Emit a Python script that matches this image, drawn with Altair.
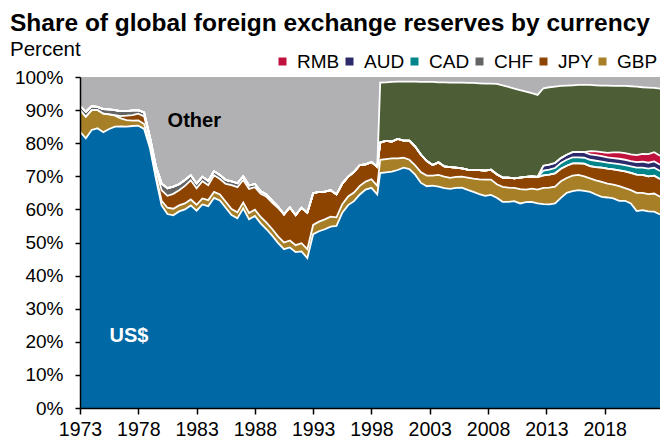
import altair as alt
import pandas as pd

years = [
    1973.0, 1973.5, 1974.0, 1974.5, 1975.0, 1975.5, 1976.0, 1976.5, 1977.0, 1977.5,
    1978.0, 1978.5, 1979.0, 1979.5, 1980.0, 1980.5, 1981.0, 1981.5, 1982.0, 1982.5,
    1983.0, 1983.5, 1984.0, 1984.5, 1985.0, 1985.5, 1986.0, 1986.5, 1987.0, 1987.5,
    1988.0, 1988.5, 1989.0, 1989.5, 1990.0, 1990.5, 1991.0, 1991.5, 1992.0, 1992.5,
    1993.0, 1993.5, 1994.0, 1994.5, 1995.0, 1995.5, 1996.0, 1996.5, 1997.0, 1997.5,
    1998.0, 1998.5,
    1998.75, 1999.25, 1999.75, 2000.25, 2000.75, 2001.25, 2001.75, 2002.25, 2002.75, 2003.25,
    2003.75, 2004.25, 2004.75, 2005.25, 2005.75, 2006.25, 2006.75, 2007.25, 2007.75, 2008.25,
    2008.75, 2009.25, 2009.75, 2010.25, 2010.75, 2011.25, 2011.75, 2012.25, 2012.75, 2013.25,
    2013.75, 2014.25, 2014.75, 2015.25, 2015.75, 2016.25, 2016.75, 2017.25, 2017.75, 2018.25,
    2018.75, 2019.25, 2019.75, 2020.25, 2020.75, 2021.25, 2021.75, 2022.25, 2022.75,
]

usd = [
    83.5, 81.5, 84.0, 84.5, 83.3, 84.3, 85.0, 85.1, 85.0, 85.2,
    85.3, 84.3, 78.5, 69.5, 61.2, 58.6, 58.2, 59.4, 60.0, 61.2,
    59.6, 61.5, 61.0, 63.5, 62.7, 60.5, 58.3, 57.3, 60.3, 57.0,
    58.0, 55.8, 54.0, 52.0, 49.8, 48.0, 48.5, 47.1, 47.3, 45.3,
    52.5, 53.4, 54.0, 54.8, 55.0, 59.0, 61.3, 62.5, 64.5, 66.0,
    66.5, 64.5,
    71.0, 71.2, 71.4, 71.9, 72.6, 72.2, 70.5, 68.0, 67.0, 67.2,
    66.9, 66.4, 66.2, 66.5, 66.6, 65.9, 65.3, 64.6, 64.1, 64.4,
    63.5, 62.3, 62.3, 62.5, 61.8, 62.2, 62.3, 61.8, 61.6, 61.5,
    61.8, 63.5, 65.0, 65.5, 65.8, 65.6, 65.3, 64.5, 63.8, 63.6,
    63.3, 62.6, 62.6, 61.8, 59.5, 59.8, 59.4, 59.3, 58.5,
]

gbp = [
    6.5, 6.5, 6.0, 5.5, 5.6, 4.4, 3.3, 2.4, 2.0, 1.6,
    1.6, 1.5, 1.0, 0.8, 1.4, 1.9, 2.0, 1.8, 1.8, 1.8,
    1.8, 1.8, 1.8, 1.8, 1.8, 1.8, 1.8, 1.8, 1.8, 1.9,
    1.9, 1.9, 2.0, 2.0, 2.0, 2.0, 2.1, 2.1, 2.5, 2.7,
    2.8, 2.9, 3.0, 3.0, 2.6, 2.6, 2.6, 2.6, 2.6, 2.4,
    2.6, 2.6,
    4.0, 4.0, 4.0, 3.5, 3.0, 2.8, 2.8, 3.2, 3.2, 3.0,
    3.5, 3.5, 3.3, 3.3, 3.3, 3.7, 4.0, 4.5, 4.9, 4.6,
    4.1, 4.5, 4.3, 4.0, 4.3, 3.8, 4.0, 4.2, 4.9, 5.1,
    5.1, 5.0, 4.5, 4.7, 4.6, 4.4, 4.1, 4.3, 4.5, 4.2,
    4.2, 4.4, 3.8, 4.0, 5.5, 5.2, 5.2, 5.5, 5.3,
]

jpy = [
    0.0, 0.0, 0.0, 0.0, 0.0, 0.0, 0.2, 0.7, 1.3, 1.7,
    2.0, 2.3, 1.5, 2.0, 3.2, 3.6, 4.5, 4.6, 5.3, 5.8,
    5.0, 5.2, 4.5, 5.0, 4.7, 5.4, 7.2, 7.6, 6.8, 7.3,
    6.8, 7.0, 7.8, 8.0, 8.6, 8.5, 10.0, 9.1, 10.7, 11.0,
    9.6, 9.0, 8.4, 8.0, 6.9, 6.2, 6.0, 6.2, 6.3, 5.2,
    5.2, 5.8,
    5.2, 5.5, 5.1, 5.9, 5.2, 5.8, 5.7, 5.3, 4.4, 3.2,
    3.8, 3.1, 3.3, 2.8, 2.5, 2.4, 2.6, 2.8, 2.7, 3.0,
    3.0, 2.8, 3.0, 2.9, 3.5, 3.8, 3.7, 3.8, 3.8, 3.9,
    4.0, 3.8, 3.7, 3.7, 3.5, 3.8, 3.7, 4.0, 4.3, 4.5,
    4.6, 4.8, 5.1, 5.2, 5.5, 5.4, 5.4, 5.4, 5.4,
]

chf = [
    1.3, 1.5, 1.2, 1.0, 1.4, 1.5, 1.5, 1.5, 1.4, 1.4,
    1.1, 1.2, 0.8, 0.9, 2.0, 2.3, 2.2, 1.8, 1.8, 1.5,
    1.4, 1.4, 1.3, 1.2, 1.2, 1.2, 1.2, 1.2, 1.1, 1.0,
    1.0, 0.8, 0.7, 0.6, 0.4, 0.0, 0.0, 0.0, 0.0, 0.0,
    0.0, 0.0, 0.0, 0.0, 0.0, 0.0, 0.0, 0.0, 0.0, 0.0,
    0.0, 0.0,
] + [0.0] * 49

cad = [0.0] * 80 + [
    1.4, 1.5, 1.6, 1.7, 1.8, 1.8, 1.8, 1.8, 1.9, 1.9,
    1.8, 1.8, 1.8, 1.9, 1.9, 2.0, 2.1, 2.2, 2.3, 2.4, 2.4,
]

aud = [0.0] * 80 + [
    1.5, 1.5, 1.5, 1.5, 1.5, 1.6, 1.7, 1.7, 1.6, 1.7,
    1.7, 1.6, 1.6, 1.6, 1.6, 1.6, 1.7, 1.8, 1.8, 1.9, 1.9,
]

rmb = [0.0] * 88 + [
    1.0, 1.1, 1.2, 1.4, 1.7, 1.9, 2.0, 2.0, 2.1, 2.4, 2.6, 2.8, 2.7,
]

eur = [0.0] * 52 + [
    18.1, 17.7, 18.0, 17.3, 17.8, 17.8, 19.6, 22.0, 23.9, 25.1,
    24.2, 25.4, 25.5, 25.7, 25.9, 26.2, 26.3, 26.2, 26.3, 26.0,
    27.3, 27.9, 27.4, 27.1, 26.4, 25.8, 25.1, 24.8, 23.4, 23.4,
    23.1, 21.8, 20.9, 20.2, 20.2, 20.3, 20.0, 20.0, 20.1, 20.3,
    20.1, 20.1, 20.3, 20.6, 20.7, 20.1, 20.1, 19.4, 20.3,
]

currencies = ["US$", "GBP", "JPY", "CHF", "CAD", "AUD", "RMB", "EUR", "Other"]
colors = ["#0068A5", "#A67F27", "#8C4400", "#646464", "#00868A",
          "#2D2A6B", "#C0123C", "#4D5E37", "#B1B1B3"]
legend_items = ["RMB", "AUD", "CAD", "CHF", "JPY", "GBP"]

x_ticks = [1973, 1978, 1983, 1988, 1993, 1998, 2003, 2008, 2013, 2018]
y_ticks = [0, 10, 20, 30, 40, 50, 60, 70, 80, 90, 100]

label_text = ["Other", "US$"]
label_year = [1982.8, 1977.2]
label_pct = [86.6, 21.8]
label_color = ["#000000", "#FFFFFF"]

title_text = "Share of global foreign exchange reserves by currency"
unit_text = "Percent"

series = [usd, gbp, jpy, chf, cad, aud, rmb, eur]
rows = []
for i, t in enumerate(years):
    vals = [s[i] for s in series]
    other = round(100.0 - sum(vals), 2)
    for rank, (c, v) in enumerate(zip(currencies, vals + [other])):
        rows.append({"year": t, "currency": c, "share": v, "rank": rank})
df = pd.DataFrame(rows)

FONT = "Liberation Sans"

xscale = alt.Scale(domain=[1973, 2022.75], nice=False, zero=False)
yscale = alt.Scale(domain=[0, 100], nice=False)

x_axis = alt.Axis(values=x_ticks, format="d", title=None, grid=False,
                  tickSize=6, tickWidth=1.5, tickColor="black",
                  domainColor="black", domainWidth=1.5,
                  labelFontSize=19.5, labelFont=FONT, labelColor="black",
                  labelPadding=6, labelFlush=False, labelOverlap=False, zindex=1)
y_axis = alt.Axis(values=y_ticks, labelExpr="datum.value + '%'", title=None,
                  grid=False, tickSize=5, tickWidth=1.5, tickColor="black",
                  domainColor="black", domainWidth=1.5,
                  labelFontSize=19, labelFont=FONT, labelColor="black",
                  labelPadding=12, labelOverlap=False, zindex=1)

base = alt.Chart(df).transform_stack(
    stack="share", groupby=["year"], as_=["y0", "y1"],
    sort=[alt.SortField("rank", order="ascending")],
)

areas = base.mark_area(interpolate="linear").encode(
    x=alt.X("year:Q", scale=xscale, axis=x_axis),
    y=alt.Y("y1:Q", scale=yscale, axis=y_axis),
    y2="y0:Q",
    color=alt.Color("currency:N",
                    scale=alt.Scale(domain=currencies, range=colors),
                    legend=alt.Legend(values=legend_items, title=None, orient="none",
                                      legendX=193, legendY=-25, direction="horizontal",
                                      gridAlign="none",
                                      symbolType="square", symbolSize=64,
                                      symbolStrokeWidth=0, labelFontSize=19,
                                      labelFont=FONT, labelColor="black",
                                      labelOffset=5, columnPadding=0, padding=0)),
    detail="currency:N",
)

lines = base.transform_filter("datum.currency != 'Other'").mark_line(
    color="white", strokeWidth=1.8, interpolate="linear"
).encode(
    x=alt.X("year:Q", scale=xscale, axis=x_axis),
    y=alt.Y("y1:Q", scale=yscale, axis=y_axis),
    detail="currency:N",
    order=alt.Order("year:Q"),
)

ann_df = pd.DataFrame({"label": label_text, "year": label_year,
                       "pct": label_pct, "col": label_color})
annotations = alt.Chart(ann_df).mark_text(
    font=FONT, fontSize=20, fontWeight="bold"
).encode(
    x=alt.X("year:Q", scale=xscale, axis=x_axis),
    y=alt.Y("pct:Q", scale=yscale, axis=y_axis),
    text="label:N",
    color=alt.Color("col:N", scale=None),
)

title_mark = alt.Chart(pd.DataFrame({"t": [title_text]})).mark_text(
    font=FONT, fontSize=24.5, fontWeight="bold", align="left",
    baseline="alphabetic", color="black"
).encode(x=alt.value(-70), y=alt.value(-46), text="t:N")

unit_mark = alt.Chart(pd.DataFrame({"t": [unit_text]})).mark_text(
    font=FONT, fontSize=20.5, align="left", baseline="alphabetic", color="black"
).encode(x=alt.value(-70), y=alt.value(-21), text="t:N")

chart = alt.layer(areas, lines, annotations, title_mark, unit_mark).properties(
    width=580, height=331,
    padding={"left": 72, "top": 69, "right": 0, "bottom": 30},
    autosize=alt.AutoSizeParams(type="none"),
).configure_view(stroke=None).configure(font=FONT)

chart.save("out.html", embed_options={"renderer": "svg", "actions": False})
